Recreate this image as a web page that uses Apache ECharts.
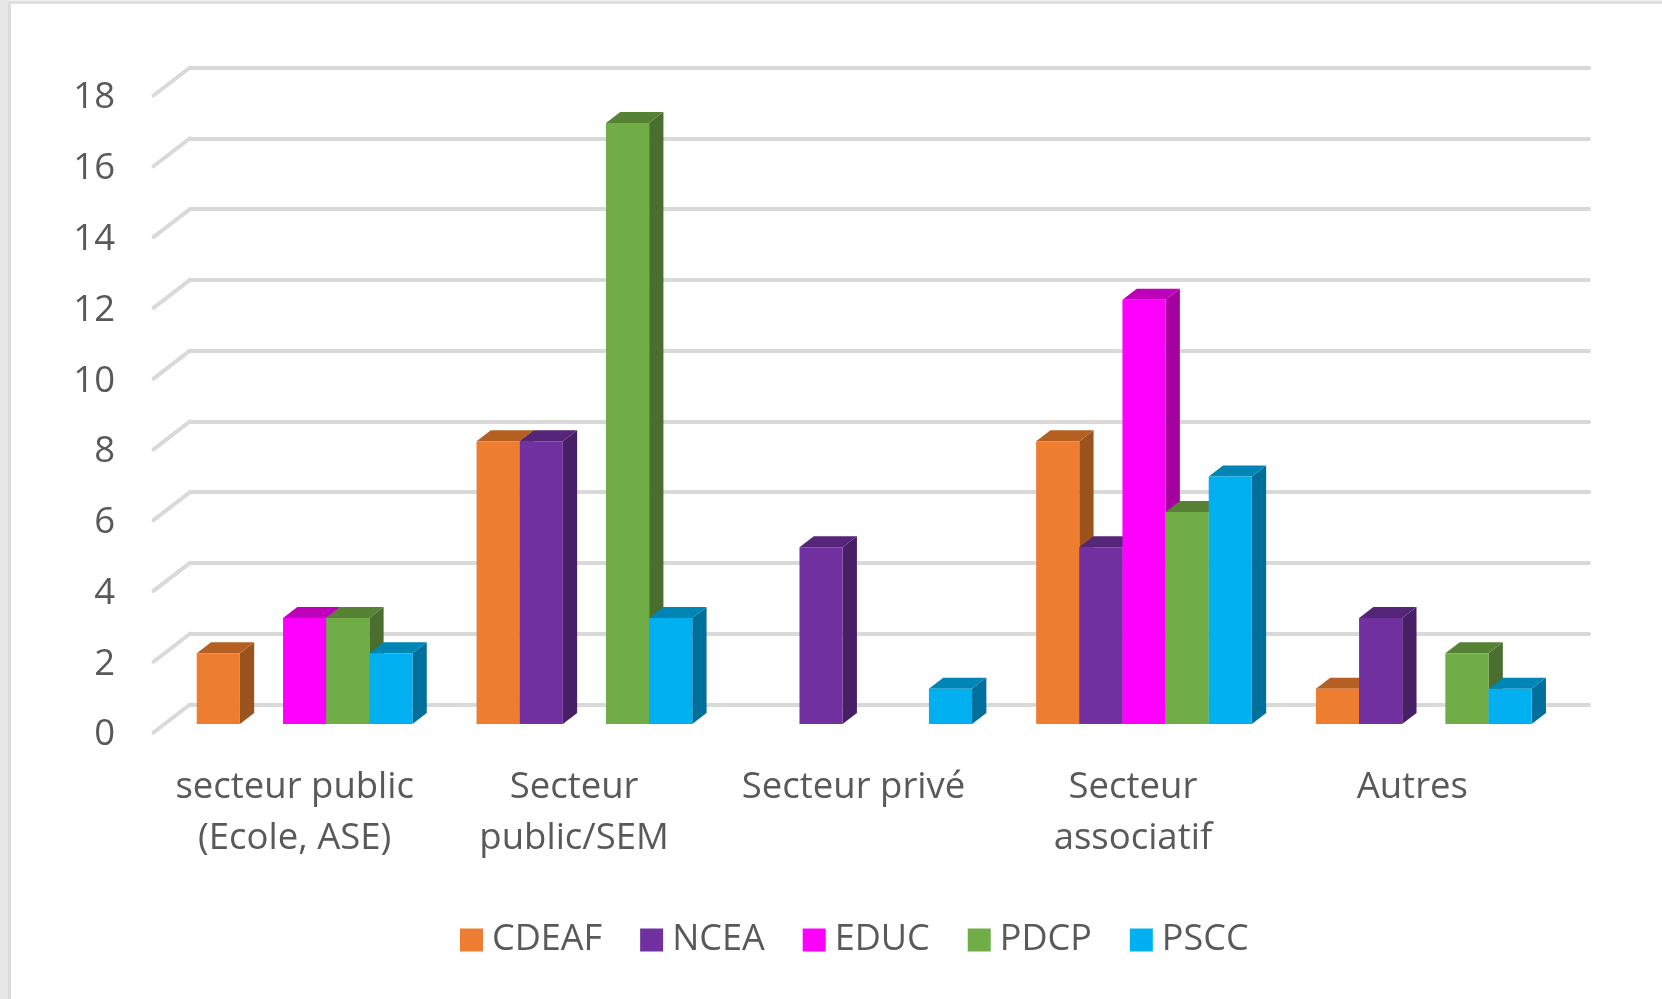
<!DOCTYPE html>
<html><head><meta charset="utf-8">
<style>
html,body{margin:0;padding:0;background:#fff;width:1662px;height:999px;overflow:hidden}
#frameL{position:absolute;left:0;top:0;width:8px;height:999px;background:#e8e7e7}
#frameL2{position:absolute;left:8px;top:1px;width:3px;height:998px;background:#dadada}
#frameT{position:absolute;left:8px;top:1px;width:1654px;height:3px;background:#dedede}
#frameT0{position:absolute;left:0;top:0;width:1662px;height:1px;background:#eeeeee}
#chart{position:absolute;left:0;top:0;width:1662px;height:999px}
</style>
<script src="https://cdn.jsdelivr.net/npm/echarts@6/dist/echarts.min.js"></script>
</head><body>
<div id="frameT0"></div><div id="frameL"></div><div id="frameL2"></div><div id="frameT"></div>
<div id="chart"></div>
<script>
const categories = ['secteur public\n(Ecole, ASE)', 'Secteur\npublic/SEM', 'Secteur privé', 'Secteur\nassociatif', 'Autres'];
const CDEAF = [2, 8, null, 8, 1];
const NCEA  = [null, 8, 5, 5, 3];
const EDUC  = [3, null, null, 12, null];
const PDCP  = [3, 17, null, 6, 2];
const PSCC  = [2, 3, 1, 7, 1];
const yTicks = [0, 2, 4, 6, 8, 10, 12, 14, 16, 18];

const seriesDefs = [
  {name:'CDEAF', values:CDEAF, front:'#ED7D31', side:'#9A531C', top:'#B56023'},
  {name:'NCEA',  values:NCEA,  front:'#7030A0', side:'#471F66', top:'#552578'},
  {name:'EDUC',  values:EDUC,  front:'#FF00FF', side:'#A3009F', top:'#BF00BA'},
  {name:'PDCP',  values:PDCP,  front:'#70AD47', side:'#4A6E2D', top:'#578235'},
  {name:'PSCC',  values:PSCC,  front:'#00B0F0', side:'#006F9B', top:'#0085B5'}
];
const FONT = '"Open Sans", sans-serif';
const TXT = '#595959';
const DX = 14.3, DY = 11, BAR = 0.1542;

function poly(points, fill){
  return {type:'polygon', shape:{points}, style:{fill, stroke:null}};
}
function barRenderer(def, k){
  return function(params, api){
    const cat = api.value(0), val = api.value(1);
    const base = api.coord([cat, 0]);
    const head = api.coord([cat, val]);
    const w = api.size([1, 0])[0] * BAR;
    const x0 = base[0] + (k - 2.5) * w, x1 = x0 + w;
    const yb = base[1], yt = head[1];
    return {type:'group', children:[
      poly([[x1,yb],[x1+DX,yb-DY],[x1+DX,yt-DY],[x1,yt]], def.side),
      poly([[x0,yt],[x1,yt],[x1+DX,yt-DY],[x0+DX,yt-DY]], def.top),
      poly([[x0,yb],[x1,yb],[x1,yt],[x0,yt]], def.front)
    ]};
  };
}

const option = {
  animation:false,
  backgroundColor:'transparent',
  textStyle:{fontFamily:FONT},
  legend:{
    left:460, top:922, padding:0, itemWidth:23, itemHeight:23, itemGap:38, icon:'rect',
    textStyle:{color:TXT, fontFamily:FONT, fontSize:36, lineHeight:23, padding:[0,0,0,4]},
    itemStyle:{borderWidth:0},
    selectedMode:false,
    data:seriesDefs.map(d=>d.name)
  },
  grid:[
    {left:190, top:67.5, width:1399, height:637},
    {left:155, top:98, width:1397, height:637},
    {left:164.7, top:87.7, width:1399, height:636.3}
  ],
  xAxis:[
    {gridIndex:0, type:'category', data:categories, axisLine:{show:false}, axisTick:{show:false}, axisLabel:{show:false}, splitLine:{show:false}},
    {gridIndex:1, type:'category', data:categories, axisLine:{show:false}, axisTick:{show:false}, splitLine:{show:false},
      axisLabel:{color:TXT, fontFamily:FONT, fontSize:36.5, lineHeight:51, margin:27, interval:0}},
    {gridIndex:2, type:'category', data:categories, axisLine:{show:false}, axisTick:{show:false}, axisLabel:{show:false}, splitLine:{show:false}}
  ],
  yAxis:[
    {gridIndex:0, type:'value', min:0, max:18, interval:2, axisLine:{show:false}, axisTick:{show:false}, axisLabel:{show:false},
      splitLine:{show:true, lineStyle:{color:'#D9D9D9', width:4, cap:'round'}}},
    {gridIndex:1, type:'value', min:0, max:18, interval:2, axisLine:{show:false}, axisTick:{show:false}, splitLine:{show:false},
      axisLabel:{color:TXT, fontFamily:FONT, fontSize:36.5, margin:40}},
    {gridIndex:2, type:'value', min:0, max:18, interval:2, axisLine:{show:false}, axisTick:{show:false}, axisLabel:{show:false}, splitLine:{show:false}}
  ],
  series:[
    {
      type:'custom', name:'walls', xAxisIndex:0, yAxisIndex:0, silent:true, z:1,
      encode:{x:0,y:1},
      data:yTicks.map(v=>[0,v]),
      renderItem:function(params, api){
        const cs = params.coordSys;
        const y = api.coord([0, api.value(1)])[1];
        return {type:'polyline', shape:{points:[[cs.x-36.5, y+28],[cs.x, y]]},
          style:{stroke:'#D9D9D9', lineWidth:4, fill:null, lineCap:'round', lineJoin:'round'}};
      }
    }
  ].concat(seriesDefs.map((d,k)=>({
    type:'custom', name:d.name, xAxisIndex:2, yAxisIndex:2, silent:true, z:2+k,
    itemStyle:{color:d.front},
    encode:{x:0,y:1},
    data:d.values.map((v,i)=>[i,v]).filter(p=>p[1]!==null),
    renderItem:barRenderer(d,k)
  })))
};
const chart = echarts.init(document.getElementById('chart'), null, {renderer:'canvas'});
chart.setOption(option);
</script>
</body></html>
